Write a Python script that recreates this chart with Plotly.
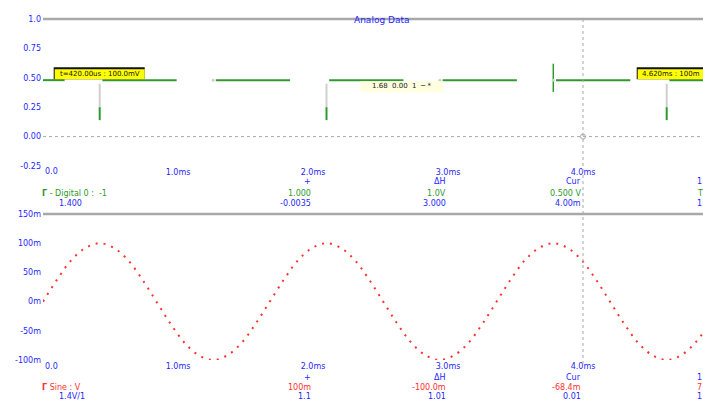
import plotly.graph_objects as go

# ---- data -------------------------------------------------------------
# sine channel, sampled every 0.105 ms (values in mV)
sample_period_ms = 0.105
sine_mv = [0, 38, 71, 92, 100, 92, 71, 38, 0, -38, -71, -92, -100, -92, -71, -38,
           0, 38, 71, 92, 100, 92, 71, 38, 0, -38, -71, -92, -100, -92, -71, -38,
           0, 38, 71, 92, 100, 92, 71, 38, 0, -38, -71, -92, -100, -92, -71, -38]
sine_t = [i * sample_period_ms for i in range(len(sine_mv))]

# digital channel: high-level segments (start / end times in ms)
dig_level = 0.48
seg_start = [0.00, 0.44, 1.28, 2.12, 2.96, 3.80, 4.64]
seg_end = [0.16, 0.99, 1.83, 2.67, 3.51, 4.35, 4.89]

# events on the digital channel (ms)
stem_events = [0.42, 2.10, 4.62]
stem_top, stem_mid, stem_low = 0.45, 0.25, 0.14
spike_event = 3.78
spike_hi, spike_lo = 0.62, 0.38
minor_events = [1.26, 2.94]

cursor_t = 4.0

x_ticks = [1, 2, 3, 4]
x_labels = ["1.0ms", "2.0ms", "3.0ms", "4.0ms"]
x_origin_label = "0.0"
y1_ticks = [-0.25, 0, 0.25, 0.5, 0.75, 1.0]
y1_labels = ["-0.25", "0.00", "0.25", "0.50", "0.75", "1.0"]
y2_ticks = [-100, -50, 0, 50, 100, 150]
y2_labels = ["-100m", "-50m", "0m", "50m", "100m", "150m"]

# ---- style ------------------------------------------------------------
BLUE = "#1f1fff"
GREEN = "#2e9a2e"
RED = "#ff3030"
GREY = "#a8a8a8"
STEM = "#cfcfcf"
FONT = "DejaVu Sans"

W, H = 703, 403
ML, MR, MT, MB = 43, 0, 19, 43
PLOT_H = H - MT - MB


def py(ypix):
    """paper y from a pixel row"""
    return (H - MB - ypix) / PLOT_H


def px(xpix):
    """paper x from a pixel column"""
    return (xpix - ML) / (W - ML - MR)


fig = go.Figure()

# digital segments
dx, dy = [], []
for s, e in zip(seg_start, seg_end):
    dx += [s, e, None]
    dy += [dig_level, dig_level, None]
fig.add_trace(go.Scatter(x=dx, y=dy, mode="lines", line=dict(color=GREEN, width=2),
                         xaxis="x", yaxis="y", hoverinfo="skip"))

# event stems
for t in stem_events:
    fig.add_trace(go.Scatter(x=[t, t], y=[stem_top, stem_mid], mode="lines",
                             line=dict(color=STEM, width=2), xaxis="x", yaxis="y"))
    fig.add_trace(go.Scatter(x=[t, t], y=[stem_mid, stem_low], mode="lines",
                             line=dict(color=GREEN, width=2), xaxis="x", yaxis="y"))
fig.add_trace(go.Scatter(x=[spike_event, spike_event], y=[spike_hi, spike_lo], mode="lines",
                         line=dict(color=GREEN, width=1.5), xaxis="x", yaxis="y"))
fig.add_trace(go.Scatter(x=minor_events + [spike_event], y=[dig_level] * 3, mode="markers",
                         marker=dict(color=STEM, size=3), xaxis="x", yaxis="y"))

# sine channel
fig.add_trace(go.Scatter(x=sine_t, y=sine_mv, mode="lines", line_shape="spline",
                         line=dict(color=RED, width=2, dash="2px,6px"),
                         xaxis="x2", yaxis="y2", hoverinfo="skip"))

# cursor crossing marker
fig.add_trace(go.Scatter(x=[cursor_t], y=[0], mode="markers",
                         marker=dict(symbol="circle-open", color=GREY, size=5),
                         xaxis="x", yaxis="y"))

top_dom = [py(166), 1.0]
bot_dom = [0.0, py(214)]

axis_font = dict(family=FONT, size=8, color=BLUE)
common_x = dict(range=[0, (W - ML) / 135], showgrid=False, zeroline=False, showline=False,
                ticks="", tickvals=x_ticks, ticktext=x_labels, tickfont=axis_font)
common_y = dict(showgrid=False, zeroline=False, showline=False, ticks="", tickfont=axis_font,
                ticklabelstandoff=1)

fig.update_layout(
    width=W, height=H,
    margin=dict(l=ML, r=MR, t=MT, b=MB),
    paper_bgcolor="white", plot_bgcolor="white",
    showlegend=False,
    xaxis=dict(**common_x, anchor="y"),
    yaxis=dict(**common_y, domain=top_dom, range=[-0.25, 1.0],
               tickvals=y1_ticks, ticktext=y1_labels),
    xaxis2=dict(**common_x, anchor="y2"),
    yaxis2=dict(**common_y, domain=bot_dom, range=[-100, 150],
                tickvals=y2_ticks, ticktext=y2_labels),
)

shapes = []
# top borders of both panels
for yr in ["y domain", "y2 domain"]:
    shapes.append(dict(type="line", xref="x domain", yref=yr, x0=0, x1=1, y0=1, y1=1,
                       line=dict(color=GREY, width=2.5)))
# dotted zero line of the digital panel
shapes.append(dict(type="line", xref="x domain", yref="y", x0=0, x1=1, y0=0, y1=0,
                   line=dict(color=GREY, width=1, dash="dot")))
# vertical cursor
shapes.append(dict(type="line", xref="x", yref="paper", x0=cursor_t, x1=cursor_t,
                   y0=py(364), y1=1, line=dict(color=GREY, width=1, dash="dot")))


def pixel_rect(t, level, x0, x1, y0, y1, color):
    shapes.append(dict(type="rect", xref="x", yref="y", xsizemode="pixel", ysizemode="pixel",
                       xanchor=t, yanchor=level, x0=x0, x1=x1, y0=y0, y1=y1,
                       fillcolor=color, line=dict(width=0), layer="above"))


ann = []
small = dict(family=FONT, size=8)

# title
ann.append(dict(text="Analog Data", xref="paper", yref="paper", x=px(381), y=py(13),
                showarrow=False, font=dict(family=FONT, size=9, color=BLUE)))

# event label boxes: dark edge + yellow face, text on top
pixel_rect(stem_events[0], dig_level, -46, 45, 1, 13, "#111111")
pixel_rect(stem_events[0], dig_level, -45, 45, 1, 11, "#ffff00")
ann.append(dict(text="t=420.00us : 100.0mV", x=stem_events[0], y=dig_level, xref="x", yref="y",
                showarrow=False, yshift=6, font=dict(family=FONT, size=7, color="#111111")))

pixel_rect(stem_events[2], dig_level, -30, 45, 1, 13, "#111111")
pixel_rect(stem_events[2], dig_level, -29, 45, 1, 11, "#ffff00")
ann.append(dict(text="4.620ms : 100m", x=stem_events[2], y=dig_level, xref="x", yref="y",
                showarrow=False, yshift=6, xshift=4, font=dict(family=FONT, size=7, color="#111111")))

pixel_rect(stem_events[1], dig_level, 34, 117, -1, -12, "#ffffe0")
ann.append(dict(text="1.68  0.00  1  \u2500 *", x=stem_events[1], y=dig_level, xref="x", yref="y",
                showarrow=False, yshift=-6, xshift=75, font=dict(family=FONT, size=7, color="#222222")))

fig.update_layout(shapes=shapes)


# readout rows under each panel
def row(text, x, ypix, color, anchor="right", xref="x"):
    ann.append(dict(text=text, x=x, y=py(ypix), xref=xref, yref="paper", xanchor=anchor,
                    yanchor="middle", showarrow=False, font=dict(**small, color=color)))


# origin tick labels, set to the right of the axis origin
row(x_origin_label, 0, 171, BLUE, anchor="left")
row(x_origin_label, 0, 366, BLUE, anchor="left")

cols = [2.0, 3.0, 4.0]
top_hdr = ["+", "\u0394H", "Cur"]
top_val = ["1.000", "1.0V", "0.500 V"]
top_sub = ["-0.0035", "3.000", "4.00m"]
bot_hdr = ["+", "\u0394H", "Cur"]
bot_val = ["100m", "-100.0m", "-68.4m"]
bot_sub = ["1.1", "1.01", "0.01"]

for c, h, v, s in zip(cols, top_hdr, top_val, top_sub):
    row(h, c, 181, BLUE)
    row(v, c, 193, GREEN)
    row(s, c, 203, BLUE)
for c, h, v, s in zip(cols, bot_hdr, bot_val, bot_sub):
    row(h, c, 377, BLUE)
    row(v, c, 387, RED)
    row(s, c, 397, BLUE)

# right-hand column, start of its entries
edge_t = 4.83
for ypix, txt, col in [(181, "1", BLUE), (193, "T", GREEN), (203, "1", BLUE),
                       (377, "1", BLUE), (387, "7", RED), (397, "1", BLUE)]:
    row(txt, edge_t, ypix, col, anchor="left")

# channel names
row("<b>\u0393</b> - Digital 0 :  -1", px(40), 193, GREEN, anchor="left", xref="paper")
row("1.400", px(57), 203, BLUE, anchor="left", xref="paper")
row("<b>\u0393</b> Sine : V", px(40), 387, RED, anchor="left", xref="paper")
row("1.4V/1", px(57), 397, BLUE, anchor="left", xref="paper")

fig.update_layout(annotations=ann)

fig.write_html("out.html")
